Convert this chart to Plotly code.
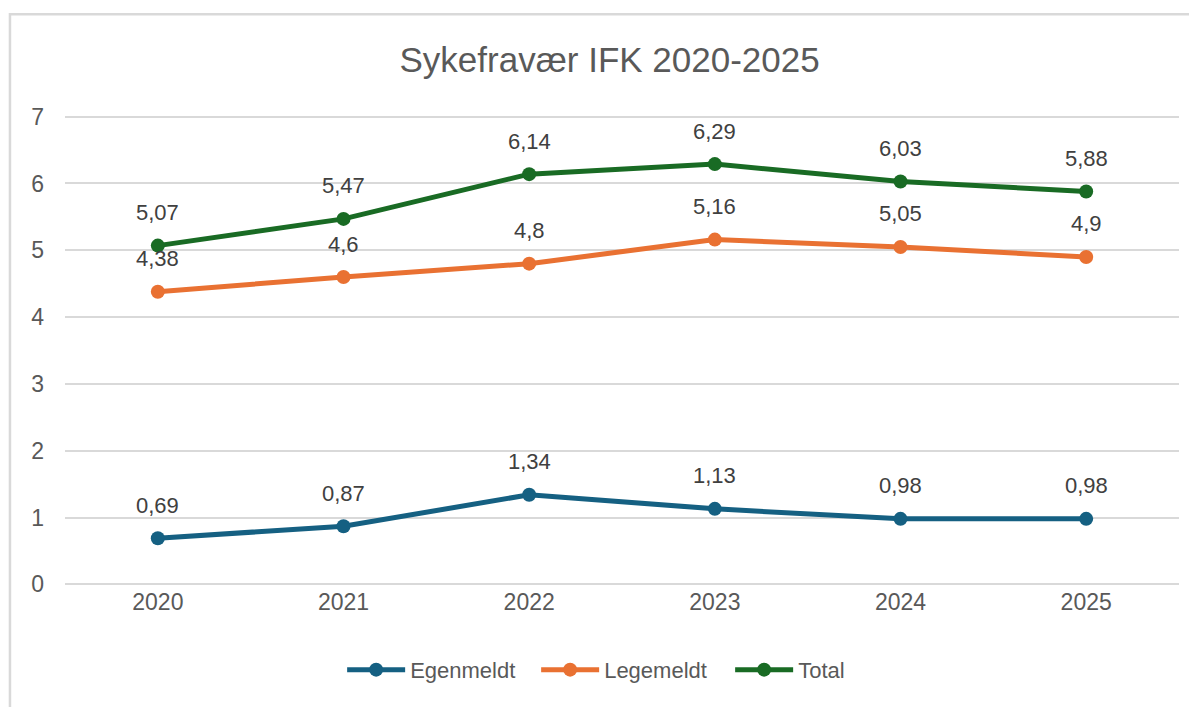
import plotly.graph_objects as go

# Sykefravær IFK 2020-2025
years = ["2020", "2021", "2022", "2023", "2024", "2025"]
egenmeldt = [0.69, 0.87, 1.34, 1.13, 0.98, 0.98]
legemeldt = [4.38, 4.6, 4.8, 5.16, 5.05, 4.9]
total = [5.07, 5.47, 6.14, 6.29, 6.03, 5.88]

series = [
    ("Egenmeldt", egenmeldt, "#156082"),
    ("Legemeldt", legemeldt, "#E97132"),
    ("Total", total, "#196B24"),
]

FONT = "Liberation Sans"
GREY = "#595959"

fig = go.Figure()
for name, vals, col in series:
    fig.add_trace(go.Scatter(
        x=years, y=vals, name=name, mode="lines+markers",
        line=dict(color=col, width=5),
        marker=dict(color=col, size=14),
    ))
    # data labels above each point (category index on x)
    for i, v in enumerate(vals):
        fig.add_annotation(
            x=i, y=v, text=str(v).replace(".", ","), showarrow=False,
            yshift=33, font=dict(family=FONT, size=22, color="#404040"),
        )

# light grey frame around the chart area
fig.add_shape(type="rect", xref="paper", yref="paper",
              x0=-0.0494, x1=1.05, y0=-0.35, y1=1.214,
              line=dict(color="#d9d9d9", width=2.5), layer="below")

fig.update_layout(
    width=1189, height=699,
    margin=dict(l=57, r=18, t=107, b=121),
    paper_bgcolor="white", plot_bgcolor="white",
    title=dict(text="Sykefravær IFK 2020-2025", x=0.506, xanchor="center",
               y=0.926, yanchor="middle",
               font=dict(family=FONT, size=35, color=GREY)),
    legend=dict(orientation="h", x=0.51, xanchor="center", y=-0.178, yanchor="middle",
                entrywidth=121, itemwidth=58,
                font=dict(family=FONT, size=22, color=GREY)),
    showlegend=True,
)
fig.update_xaxes(type="category", range=[-0.5, 5.5], showgrid=False, showline=False, ticks="",
                 tickfont=dict(family=FONT, size=23, color=GREY))
fig.update_yaxes(range=[-0.025, 7.025], dtick=1, showgrid=True, gridcolor="#d9d9d9", gridwidth=1.5,
                 zeroline=False, showline=False, ticks="", ticklabelstandoff=20,
                 tickfont=dict(family=FONT, size=23, color=GREY))

fig.write_html("out.html")
